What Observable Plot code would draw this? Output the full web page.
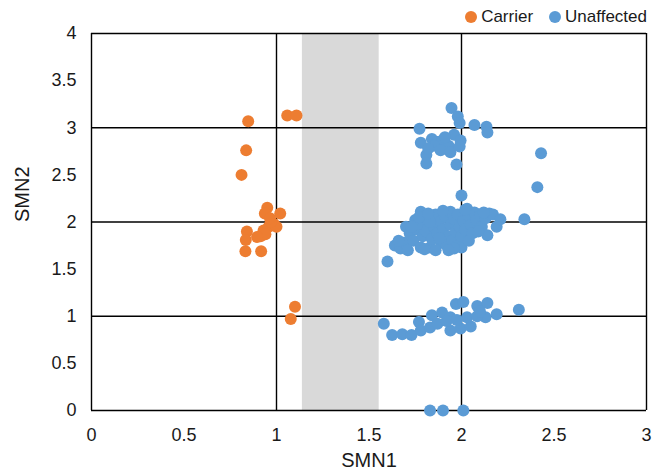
<!DOCTYPE html>
<html>
<head>
<meta charset="utf-8">
<script src="https://cdn.jsdelivr.net/npm/d3@7"></script>
<script src="https://cdn.jsdelivr.net/npm/@observablehq/plot@0.6"></script>
<style>
  html, body { margin: 0; padding: 0; background: #fff; }
  #wrap { position: relative; width: 660px; height: 474px; font-family: "Liberation Sans", Arial, sans-serif; }
  #legend { position: absolute; top: 7px; right: 13px; display: flex; gap: 16px; font-size: 17px; color: #1a1a1a; align-items: center; }
  #legend span.item { display: flex; align-items: center; gap: 4px; }
  #legend span.sw { display: inline-block; width: 12px; height: 12px; border-radius: 50%; }
</style>
</head>
<body>
<div id="wrap">
  <div id="legend"></div>
</div>
<script>
// ---- data ----
const seriesNames = ["Carrier", "Unaffected"];
const seriesColors = ["#ED7D31", "#5B9BD5"];

const carrierSMN1 = [0.847, 1.058, 1.108, 0.836, 0.811, 0.95, 0.937, 1.02, 0.84, 0.834, 0.832, 0.917, 0.914, 0.93, 0.958, 0.986, 1.0, 0.97, 0.94, 0.895, 0.965, 1.10, 1.077];
const carrierSMN2 = [3.07, 3.13, 3.13, 2.76, 2.50, 2.15, 2.09, 2.09, 1.90, 1.81, 1.69, 1.69, 1.85, 1.91, 1.95, 1.98, 1.95, 2.00, 1.87, 1.84, 2.04, 1.10, 0.97];

const unaffectedSMN1 = [
  // copy number 3 cluster
  1.946, 1.98, 1.99, 2.07, 2.135, 2.14, 1.773, 1.78, 1.84, 1.87, 1.896, 1.96, 1.995, 1.93, 1.85, 1.887, 1.94, 1.81, 1.81, 1.973, 1.99, 1.91, 1.82,
  2.43, 2.41,
  // copy number 2 cluster
  1.60, 1.64, 1.67, 1.69, 1.70, 1.72, 1.74, 1.75, 1.76, 1.78, 1.78, 1.79, 1.80, 1.81, 1.82, 1.83, 1.84, 1.85, 1.86, 1.87, 1.88, 1.89, 1.90, 1.91, 1.92, 1.93, 1.94, 1.94, 1.95, 1.96, 1.97, 1.98, 1.98, 1.99, 2.00, 2.00, 2.00, 2.01, 2.02, 2.03, 2.04, 2.04, 2.05, 2.06, 2.07, 2.08, 2.10, 2.11, 2.13, 2.14, 2.15, 2.17, 2.19, 2.21, 2.34, 1.90, 1.83, 1.76, 1.88, 1.96, 2.09, 1.73,
  1.66, 1.71, 1.77, 1.82, 1.80, 1.86, 2.12, 1.93, 2.02,
  // copy number 1 cluster
  1.58, 1.625, 1.68, 1.73, 1.77, 1.78, 1.83, 1.84, 1.895, 1.94, 1.97, 2.01, 2.085, 2.14, 2.13, 2.19, 2.31, 1.94, 1.995, 2.05, 1.87, 1.92, 1.975, 2.03, 2.085, 2.10,
  // copy number 0
  1.83, 1.90, 2.01
];
const unaffectedSMN2 = [
  3.21, 3.12, 3.05, 3.03, 3.01, 2.95, 2.99, 2.84, 2.88, 2.85, 2.865, 2.925, 2.865, 2.81, 2.81, 2.76, 2.74, 2.71, 2.62, 2.61, 2.80, 2.90, 2.78,
  2.73, 2.37,
  1.58, 1.75, 1.72, 1.78, 1.95, 1.88, 1.80, 2.02, 1.92, 2.11, 1.73, 1.85, 1.98, 1.90, 2.05, 1.73, 1.82, 1.95, 2.08, 1.88, 2.00, 1.78, 1.92, 2.06, 1.75, 1.85, 2.11, 1.97, 1.80, 2.03, 1.90, 1.75, 2.08, 1.95, 1.73, 1.85, 2.28, 2.01, 1.92, 2.14, 1.80, 2.06, 1.97, 1.88, 2.10, 2.02, 2.07, 1.95, 2.04, 1.86, 2.09, 2.08, 1.95, 2.03, 2.03, 2.12, 2.00, 1.97, 1.83, 1.72, 1.90, 1.95,
  1.80, 1.70, 2.05, 2.09, 1.71, 1.70, 2.10, 1.70, 2.13,
  0.92, 0.80, 0.81, 0.80, 0.94, 0.85, 0.88, 1.01, 1.04, 0.99, 1.13, 1.15, 1.11, 1.14, 0.99, 1.02, 1.07, 0.85, 0.87, 0.89, 0.92, 0.95, 0.96, 0.99, 1.00, 1.05,
  0.00, 0.00, 0.00
];

const xTicks = [0, 0.5, 1, 1.5, 2, 2.5, 3];
const yTicks = [0, 0.5, 1, 1.5, 2, 2.5, 3, 3.5, 4];
const xGrid = [0, 1, 2, 3];
const yGrid = [0, 1, 2, 3, 4];
const grayZone = [{x1: 1.14, x2: 1.555}];
const xTitle = "SMN1";
const yTitle = "SMN2";

// ---- build table ----
const points = [];
carrierSMN1.forEach((v, i) => points.push({SMN1: v, SMN2: carrierSMN2[i], group: seriesNames[0]}));
unaffectedSMN1.forEach((v, i) => points.push({SMN1: v, SMN2: unaffectedSMN2[i], group: seriesNames[1]}));

const font = '"Liberation Sans", Arial, sans-serif';

const chart = Plot.plot({
  width: 660,
  height: 474,
  marginLeft: 91,
  marginRight: 14,
  marginTop: 33,
  marginBottom: 64,
  style: {fontFamily: font, background: "#fff", overflow: "visible"},
  x: {domain: [0, 3]},
  y: {domain: [0, 4]},
  color: {domain: seriesNames, range: seriesColors},
  marks: [
    Plot.rectY(grayZone, {x1: "x1", x2: "x2", y1: 0, y2: 4, fill: "#D9D9D9"}),
    Plot.ruleX(xGrid, {stroke: "#000", strokeWidth: 1.4}),
    Plot.ruleY(yGrid, {stroke: "#000", strokeWidth: 1.4}),
    Plot.axisX({ticks: xTicks, tickSize: 0, tickPadding: 18, fontSize: 18, fill: "#1a1a1a", label: null, tickFormat: d => String(d)}),
    Plot.axisY({ticks: yTicks, tickSize: 0, tickPadding: 15, fontSize: 18, fill: "#1a1a1a", label: null, tickFormat: d => String(d)}),
    Plot.text([xTitle], {frameAnchor: "bottom", dy: 56, fontSize: 20, fill: "#1a1a1a", text: d => d}),
    Plot.text([yTitle], {frameAnchor: "left", dx: -69, rotate: -90, fontSize: 20, fill: "#1a1a1a", text: d => d}),
    Plot.dot(points, {x: "SMN1", y: "SMN2", fill: "group", r: 6, stroke: "none"})
  ]
});

const wrap = document.getElementById("wrap");
wrap.appendChild(chart);

const legend = document.getElementById("legend");
seriesNames.forEach((n, i) => {
  const item = document.createElement("span");
  item.className = "item";
  const sw = document.createElement("span");
  sw.className = "sw";
  sw.style.background = seriesColors[i];
  item.appendChild(sw);
  item.appendChild(document.createTextNode(n));
  legend.appendChild(item);
});
</script>
</body>
</html>
